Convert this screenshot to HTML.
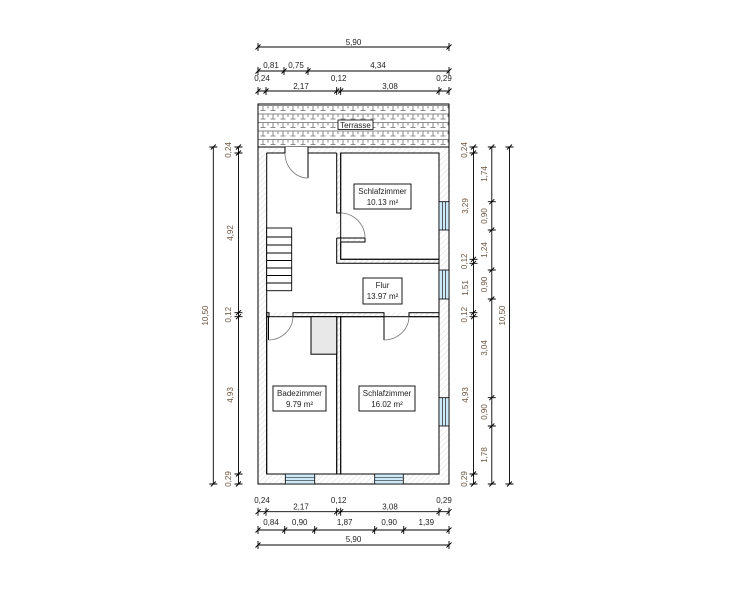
<!DOCTYPE html>
<html><head><meta charset="utf-8"><style>
html,body{margin:0;padding:0;background:#fff;width:735px;height:615px;overflow:hidden}
svg{display:block}
text{font-family:"Liberation Sans",sans-serif;font-size:8px;fill:#222}
.v{fill:#6b5540}
</style></head><body>
<svg width="735" height="615" viewBox="0 0 735 615" xmlns="http://www.w3.org/2000/svg">
<defs>
<pattern id="tile" width="10" height="8.5" patternUnits="userSpaceOnUse" x="258" y="104">
<path d="M0 1.5H10M5 1.5V6.5M2.5 6.5H7.5M0 1.5V4.5M10 1.5V4.5" stroke="#8a8a8a" stroke-width="1" fill="none"/>
</pattern>
<pattern id="hatch" width="4" height="4" patternUnits="userSpaceOnUse" patternTransform="rotate(45)">
<line x1="0" y1="0" x2="0" y2="4" stroke="#ccc" stroke-width="0.7"/>
</pattern>
</defs>
<rect x="258" y="104" width="191" height="43" fill="url(#tile)" stroke="#000" stroke-width="1"/>
<rect x="338" y="120" width="35" height="9.5" fill="#fff" stroke="#000" stroke-width="0.8"/>
<text x="355.5" y="128" text-anchor="middle">Terrasse</text>
<rect x="258" y="147" width="191" height="337" fill="url(#hatch)" stroke="#000" stroke-width="1"/>
<g fill="#fff" stroke="#000" stroke-width="1">
<rect x="340.7" y="153" width="98.3" height="106.3"/>
<rect x="266.7" y="316.7" width="70" height="157.3"/>
<rect x="340.7" y="316.7" width="98.3" height="157.3"/>
</g>
<path d="M267.2 153.5H336.2V263.8H438.5V312.2H267.2Z" fill="#fff"/>
<path d="M336.7 153V213H340.7V153" fill="url(#hatch)" stroke="#000"/>
<rect x="336.7" y="242" width="4" height="21" fill="url(#hatch)"/>
<rect x="340.7" y="259.3" width="98.3" height="4" fill="url(#hatch)"/>
<rect x="340.7" y="238" width="24.3" height="4" fill="url(#hatch)"/>
<path d="M336.7 238V263.3H439M340.7 242V259.3H439M340.7 242H365V238H336.7" fill="none" stroke="#000"/>
<rect x="293" y="312.7" width="91" height="4" fill="url(#hatch)" stroke="#000"/>
<rect x="409" y="312.7" width="30" height="4" fill="url(#hatch)" stroke="#000"/>
<rect x="266.7" y="312.7" width="2.3" height="4" fill="url(#hatch)" stroke="#000"/>
<rect x="336.7" y="316.7" width="4" height="157.3" fill="url(#hatch)" stroke="#000"/>
<path d="M266.7 153V474M439 153V474M266.7 153H336.7" stroke="#000" fill="none"/>
<rect x="285" y="147" width="23" height="6.5" fill="#fff"/>
<path d="M285 147V153M308 147V178" stroke="#000" fill="none"/>
<path d="M285 153A23 25 0 0 0 308 178" stroke="#777" fill="none" stroke-width="0.8"/>
<path d="M365 238A25 25 0 0 0 340.7 213" stroke="#777" fill="none" stroke-width="0.8"/>
<path d="M268.5 316.7V340" stroke="#000"/>
<path d="M268.5 340A25 24 0 0 0 293 316.7" stroke="#777" fill="none" stroke-width="0.8"/>
<path d="M384 316.7V340" stroke="#000"/>
<path d="M384 340A25 24 0 0 0 409 316.7" stroke="#777" fill="none" stroke-width="0.8"/>
<g stroke="#000" fill="none" stroke-width="0.9">
<rect x="266.7" y="228" width="25" height="62.7" fill="#fff"/>
<path d="M266.7 237H291.7M266.7 245H291.7M266.7 253H291.7M266.7 260.5H291.7M266.7 268H291.7M266.7 275.5H291.7M266.7 283H291.7"/>
</g>
<rect x="311" y="316.7" width="25.7" height="37.5" fill="#e8e8e8" stroke="#000"/>
<g fill="#cde8f6" stroke="#000" stroke-width="0.8">
<rect x="439" y="201.7" width="10" height="28.3"/>
<rect x="439" y="270" width="10" height="29"/>
<rect x="439" y="397.7" width="10" height="28.3"/>
<rect x="285.3" y="474" width="29.4" height="10"/>
<rect x="374.7" y="474" width="28.6" height="10"/>
</g>
<g stroke="#000" stroke-width="0.6">
<path d="M442.5 201.7V230M445.5 201.7V230M442.5 270V299M445.5 270V299M442.5 397.7V426M445.5 397.7V426"/>
<path d="M285.3 477.5H314.7M285.3 480.5H314.7M374.7 477.5H403.3M374.7 480.5H403.3"/>
</g>
<g fill="#fff" stroke="#000" stroke-width="0.9">
<rect x="354" y="184" width="57" height="25"/>
<rect x="363" y="278" width="39" height="26"/>
<rect x="273" y="386" width="53" height="25"/>
<rect x="359" y="386" width="56" height="25"/>
</g>
<g text-anchor="middle">
<text x="382.5" y="194">Schlafzimmer</text><text x="382.5" y="205">10.13 m²</text>
<text x="382.5" y="288">Flur</text><text x="382.5" y="299">13.97 m²</text>
<text x="299.5" y="396">Badezimmer</text><text x="299.5" y="407">9.79 m²</text>
<text x="387" y="396">Schlafzimmer</text><text x="387" y="407">16.02 m²</text>
</g>
<g stroke="#000" stroke-width="0.9" fill="none">
<path d="M258 47H449M258 71H449M258 91H449"/>
<path d="M258 511.7H449M258 530H449M258 545H449"/>
<path d="M213.3 147V484M238.5 147V484M473.5 147V484M491.8 147V484M509.5 147V484"/>
</g>
<g stroke="#000" stroke-width="0.9" fill="none">
<path d="M258 43V51M449 43V51M255.5 49.5L260.5 44.5M446.5 49.5L451.5 44.5"/>
<path d="M258 67V75M284 67V75M308 67V75M449 67V75M255.5 73.5L260.5 68.5M281.5 73.5L286.5 68.5M305.5 73.5L310.5 68.5M446.5 73.5L451.5 68.5"/>
<path d="M258 87V95M266 87V95M336.7 87V95M340.7 87V95M439 87V95M449 87V95M255.5 93.5L260.5 88.5M263.5 93.5L268.5 88.5M334.2 93.5L339.2 88.5M338.2 93.5L343.2 88.5M436.5 93.5L441.5 88.5M446.5 93.5L451.5 88.5"/>
<path d="M258 507.7V515.7M266 507.7V515.7M336.7 507.7V515.7M340.7 507.7V515.7M439 507.7V515.7M449 507.7V515.7M255.5 514.2L260.5 509.2M263.5 514.2L268.5 509.2M334.2 514.2L339.2 509.2M338.2 514.2L343.2 509.2M436.5 514.2L441.5 509.2M446.5 514.2L451.5 509.2"/>
<path d="M258 526V534M284.7 526V534M314.7 526V534M374.7 526V534M403.7 526V534M449 526V534M255.5 532.5L260.5 527.5M282.2 532.5L287.2 527.5M312.2 532.5L317.2 527.5M372.2 532.5L377.2 527.5M401.2 532.5L406.2 527.5M446.5 532.5L451.5 527.5"/>
<path d="M258 541V549M449 541V549M255.5 547.5L260.5 542.5M446.5 547.5L451.5 542.5"/>
<path d="M209.3 147H217.3M209.3 484H217.3M210.8 149.5L215.8 144.5M210.8 486.5L215.8 481.5"/>
<path d="M234.5 147H242.5M234.5 153H242.5M234.5 312.7H242.5M234.5 316.7H242.5M234.5 474H242.5M234.5 484H242.5M236 149.5L241 144.5M236 155.5L241 150.5M236 315.2L241 310.2M236 319.2L241 314.2M236 476.5L241 471.5M236 486.5L241 481.5"/>
<path d="M469.5 147H477.5M469.5 153H477.5M469.5 259.3H477.5M469.5 263.3H477.5M469.5 312.7H477.5M469.5 316.7H477.5M469.5 474H477.5M469.5 484H477.5M471 149.5L476 144.5M471 155.5L476 150.5M471 261.8L476 256.8M471 265.8L476 260.8M471 315.2L476 310.2M471 319.2L476 314.2M471 476.5L476 471.5M471 486.5L476 481.5"/>
<path d="M487.8 147H495.8M487.8 201.7H495.8M487.8 230H495.8M487.8 270H495.8M487.8 299H495.8M487.8 397.7H495.8M487.8 426H495.8M487.8 484H495.8M489.3 149.5L494.3 144.5M489.3 204.2L494.3 199.2M489.3 232.5L494.3 227.5M489.3 272.5L494.3 267.5M489.3 301.5L494.3 296.5M489.3 400.2L494.3 395.2M489.3 428.5L494.3 423.5M489.3 486.5L494.3 481.5"/>
<path d="M505.5 147H513.5M505.5 484H513.5M507 149.5L512 144.5M507 486.5L512 481.5"/>
</g>
<g text-anchor="middle">
<text x="353.5" y="45">5,90</text>
<text x="271" y="68">0,81</text><text x="296" y="68">0,75</text><text x="378" y="68">4,34</text>
<text x="262" y="81">0,24</text><text x="301" y="89">2,17</text><text x="338.7" y="81">0,12</text><text x="390" y="89">3,08</text><text x="444" y="81">0,29</text>
<text x="262" y="503">0,24</text><text x="301" y="509.5">2,17</text><text x="338.7" y="503">0,12</text><text x="390" y="509.5">3,08</text><text x="444" y="503">0,29</text>
<text x="271" y="525">0,84</text><text x="299.7" y="525">0,90</text><text x="344.7" y="525">1,87</text><text x="389.2" y="525">0,90</text><text x="426.3" y="525">1,39</text>
<text x="353.5" y="542">5,90</text>
</g>
<g text-anchor="middle">
<text class="v" transform="translate(208,315.5) rotate(-90)">10,50</text>
<text class="v" transform="translate(231,150) rotate(-90)">0,24</text>
<text class="v" transform="translate(233,233) rotate(-90)">4,92</text>
<text class="v" transform="translate(231,314.7) rotate(-90)">0,12</text>
<text class="v" transform="translate(233,395) rotate(-90)">4,93</text>
<text class="v" transform="translate(231,479) rotate(-90)">0,29</text>
<text class="v" transform="translate(467,150) rotate(-90)">0,24</text>
<text class="v" transform="translate(468,206) rotate(-90)">3,29</text>
<text class="v" transform="translate(467,261.3) rotate(-90)">0,12</text>
<text class="v" transform="translate(468,288) rotate(-90)">1,51</text>
<text class="v" transform="translate(467,314.7) rotate(-90)">0,12</text>
<text class="v" transform="translate(468,395) rotate(-90)">4,93</text>
<text class="v" transform="translate(467,479) rotate(-90)">0,29</text>
<text class="v" transform="translate(487,174) rotate(-90)">1,74</text>
<text class="v" transform="translate(487,216) rotate(-90)">0,90</text>
<text class="v" transform="translate(487,250) rotate(-90)">1,24</text>
<text class="v" transform="translate(487,284.5) rotate(-90)">0,90</text>
<text class="v" transform="translate(487,348) rotate(-90)">3,04</text>
<text class="v" transform="translate(487,412) rotate(-90)">0,90</text>
<text class="v" transform="translate(487,455) rotate(-90)">1,78</text>
<text class="v" transform="translate(505,315.5) rotate(-90)">10,50</text>
</g>
</svg>
</body></html>
